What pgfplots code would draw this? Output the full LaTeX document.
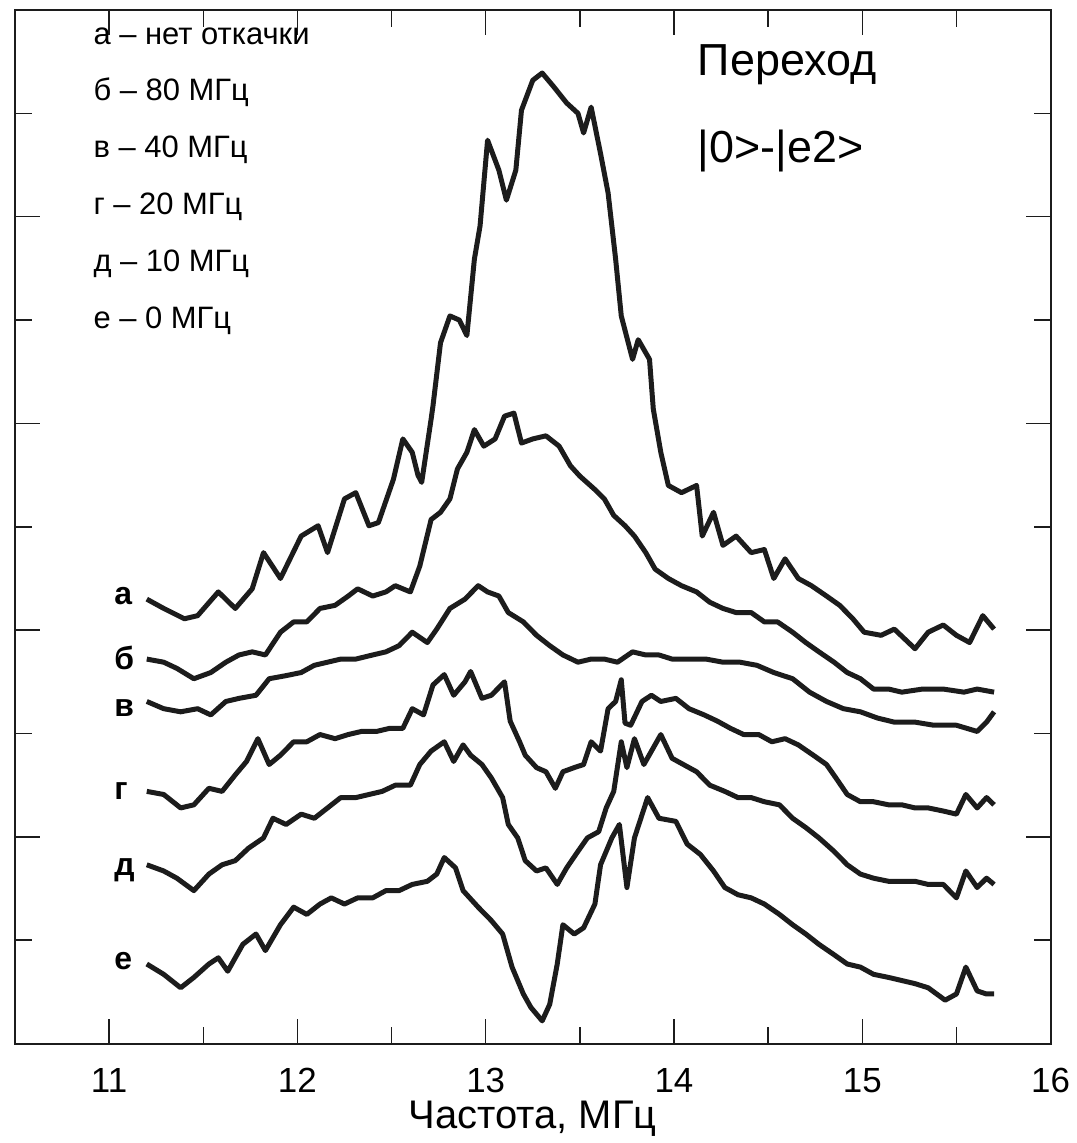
\documentclass[border=0pt]{standalone}
\usepackage{fontspec}
\setmainfont{Liberation Sans}
\usepackage{pgfplots}
\pgfplotsset{compat=1.18}
\definecolor{ink}{HTML}{1C1C1C}
\tikzset{trace/.style={ink, line width=2.5pt, line join=round, mark=none}}

\begin{document}
\begin{tikzpicture}
\begin{axis}[
  scale only axis, width=519pt, height=518pt,
  xmin=10.5, xmax=16, ymin=0, ymax=10,
  xtick={11,12,13,14,15,16},
  minor xtick={11.5,12.5,13.5,14.5,15.5},
  ytick={2,4,6,8}, minor ytick={1,3,5,7,9},
  yticklabels={},
  tick align=inside,
  major tick length=12.5pt, minor tick length=8.5pt,
  every tick/.style={ink, line width=0.75pt},
  axis line style={ink, line width=1pt},
  /pgf/number format/assume math mode=true,
  xticklabel style={font=\fontsize{17.5}{20}\selectfont, anchor=base, yshift=-24.5pt},
  xlabel={Частота, МГц},
  xlabel style={font=\fontsize{20}{22}\selectfont, at={(axis description cs:0.5,0)}, anchor=base, yshift=-42.5pt},
]
\coordinate (tl) at (rel axis cs:0,1);

% а
\addplot[trace] coordinates {
(11.20,4.30)(11.29,4.21)(11.40,4.11)(11.47,4.14)(11.58,4.37)(11.67,4.21)(11.76,4.40)(11.82,4.75)(11.91,4.50)(12.02,4.91)(12.11,5.01)(12.16,4.75)(12.25,5.27)(12.31,5.33)(12.38,5.01)(12.43,5.04)(12.51,5.46)(12.56,5.85)(12.61,5.72)(12.64,5.50)(12.66,5.43)(12.71,6.04)(12.72,6.17)(12.76,6.78)(12.81,7.04)(12.86,7.00)(12.90,6.85)(12.94,7.59)(12.97,7.91)(13.01,8.74)(13.07,8.45)(13.11,8.16)(13.16,8.45)(13.19,9.03)(13.25,9.32)(13.30,9.39)(13.36,9.26)(13.43,9.10)(13.49,9.00)(13.52,8.81)(13.56,9.06)(13.61,8.61)(13.65,8.23)(13.69,7.59)(13.72,7.04)(13.78,6.62)(13.81,6.81)(13.87,6.62)(13.89,6.14)(13.93,5.72)(13.97,5.40)(14.04,5.33)(14.12,5.40)(14.15,4.91)(14.21,5.14)(14.26,4.82)(14.33,4.91)(14.41,4.75)(14.48,4.78)(14.53,4.50)(14.59,4.69)(14.66,4.50)(14.73,4.43)(14.81,4.33)(14.88,4.24)(14.95,4.11)(15.01,3.98)(15.10,3.95)(15.17,4.01)(15.28,3.82)(15.35,3.98)(15.43,4.05)(15.50,3.95)(15.57,3.88)(15.64,4.14)(15.70,4.01)
};
% б
\addplot[trace] coordinates {
(11.20,3.72)(11.29,3.69)(11.36,3.63)(11.45,3.53)(11.54,3.59)(11.62,3.69)(11.69,3.76)(11.76,3.79)(11.83,3.76)(11.91,3.98)(11.98,4.08)(12.05,4.08)(12.12,4.21)(12.20,4.24)(12.27,4.33)(12.32,4.40)(12.40,4.33)(12.47,4.37)(12.52,4.43)(12.60,4.37)(12.65,4.62)(12.71,5.07)(12.76,5.14)(12.81,5.27)(12.85,5.56)(12.90,5.72)(12.94,5.94)(12.99,5.78)(13.05,5.85)(13.10,6.07)(13.15,6.10)(13.19,5.81)(13.25,5.85)(13.32,5.88)(13.39,5.78)(13.45,5.59)(13.50,5.49)(13.58,5.36)(13.63,5.27)(13.68,5.11)(13.74,5.01)(13.79,4.91)(13.85,4.75)(13.90,4.59)(13.97,4.50)(14.04,4.43)(14.12,4.37)(14.19,4.27)(14.26,4.21)(14.33,4.17)(14.41,4.17)(14.48,4.08)(14.55,4.08)(14.63,3.98)(14.70,3.88)(14.77,3.79)(14.85,3.69)(14.92,3.59)(14.99,3.53)(15.06,3.43)(15.14,3.43)(15.21,3.40)(15.32,3.43)(15.43,3.43)(15.54,3.40)(15.61,3.43)(15.70,3.40)
};
% в
\addplot[trace] coordinates {
(11.20,3.31)(11.29,3.24)(11.38,3.21)(11.47,3.24)(11.54,3.18)(11.62,3.31)(11.69,3.34)(11.78,3.37)(11.85,3.53)(11.94,3.56)(12.02,3.59)(12.09,3.66)(12.16,3.69)(12.23,3.72)(12.31,3.72)(12.40,3.76)(12.47,3.79)(12.54,3.85)(12.61,3.98)(12.69,3.88)(12.74,4.01)(12.81,4.21)(12.89,4.30)(12.96,4.43)(13.01,4.37)(13.07,4.33)(13.12,4.17)(13.20,4.08)(13.27,3.95)(13.34,3.85)(13.41,3.76)(13.49,3.69)(13.56,3.72)(13.63,3.72)(13.70,3.69)(13.78,3.79)(13.85,3.76)(13.92,3.76)(13.99,3.72)(14.08,3.72)(14.17,3.72)(14.26,3.69)(14.35,3.69)(14.44,3.66)(14.53,3.59)(14.63,3.53)(14.72,3.40)(14.81,3.31)(14.90,3.24)(14.99,3.21)(15.08,3.15)(15.17,3.11)(15.28,3.11)(15.38,3.08)(15.50,3.08)(15.61,3.02)(15.66,3.11)(15.70,3.21)
};
% г
\addplot[trace] coordinates {
(11.20,2.44)(11.29,2.41)(11.38,2.28)(11.45,2.31)(11.53,2.47)(11.60,2.44)(11.67,2.60)(11.73,2.73)(11.79,2.95)(11.85,2.70)(11.91,2.79)(11.98,2.92)(12.05,2.92)(12.12,2.99)(12.20,2.95)(12.27,2.99)(12.34,3.02)(12.42,3.02)(12.49,3.05)(12.56,3.05)(12.61,3.24)(12.67,3.18)(12.72,3.47)(12.78,3.57)(12.83,3.37)(12.89,3.50)(12.92,3.60)(12.98,3.34)(13.03,3.37)(13.10,3.50)(13.13,3.12)(13.18,2.92)(13.21,2.79)(13.27,2.67)(13.32,2.63)(13.37,2.47)(13.41,2.63)(13.47,2.67)(13.52,2.70)(13.56,2.92)(13.61,2.83)(13.65,3.24)(13.69,3.31)(13.72,3.52)(13.74,3.10)(13.77,3.08)(13.83,3.31)(13.88,3.37)(13.93,3.31)(14.01,3.34)(14.08,3.24)(14.16,3.18)(14.23,3.12)(14.30,3.05)(14.37,2.99)(14.45,2.99)(14.52,2.92)(14.59,2.95)(14.66,2.89)(14.74,2.79)(14.81,2.70)(14.86,2.57)(14.92,2.41)(14.99,2.34)(15.06,2.34)(15.14,2.31)(15.21,2.31)(15.28,2.28)(15.35,2.28)(15.43,2.25)(15.50,2.22)(15.55,2.41)(15.61,2.28)(15.66,2.38)(15.70,2.31)
};
% д
\addplot[trace] coordinates {
(11.20,1.73)(11.29,1.67)(11.36,1.60)(11.45,1.48)(11.53,1.64)(11.60,1.73)(11.67,1.77)(11.74,1.89)(11.82,1.99)(11.87,2.18)(11.94,2.12)(12.02,2.22)(12.09,2.18)(12.16,2.28)(12.23,2.38)(12.31,2.38)(12.38,2.41)(12.45,2.44)(12.52,2.50)(12.60,2.50)(12.65,2.70)(12.71,2.83)(12.78,2.92)(12.83,2.73)(12.88,2.89)(12.92,2.79)(12.98,2.70)(13.03,2.57)(13.09,2.38)(13.12,2.12)(13.17,1.99)(13.21,1.77)(13.27,1.67)(13.32,1.70)(13.38,1.54)(13.43,1.70)(13.49,1.86)(13.54,1.99)(13.60,2.05)(13.64,2.28)(13.68,2.44)(13.72,2.92)(13.75,2.67)(13.79,2.95)(13.84,2.70)(13.93,2.99)(13.99,2.76)(14.05,2.70)(14.12,2.63)(14.19,2.50)(14.27,2.44)(14.34,2.38)(14.41,2.38)(14.48,2.34)(14.56,2.31)(14.63,2.18)(14.70,2.09)(14.77,1.99)(14.85,1.86)(14.92,1.73)(14.99,1.64)(15.06,1.60)(15.14,1.57)(15.21,1.57)(15.28,1.57)(15.35,1.54)(15.43,1.54)(15.50,1.41)(15.55,1.67)(15.61,1.51)(15.66,1.60)(15.70,1.54)
};
% е
\addplot[trace] coordinates {
(11.20,0.77)(11.29,0.67)(11.38,0.54)(11.45,0.64)(11.53,0.77)(11.58,0.83)(11.63,0.70)(11.71,0.96)(11.78,1.06)(11.83,0.90)(11.91,1.15)(11.98,1.32)(12.05,1.25)(12.12,1.35)(12.18,1.41)(12.25,1.35)(12.32,1.41)(12.40,1.41)(12.47,1.48)(12.54,1.48)(12.61,1.54)(12.69,1.57)(12.74,1.64)(12.78,1.80)(12.84,1.70)(12.88,1.48)(12.96,1.32)(13.03,1.19)(13.09,1.06)(13.14,0.74)(13.20,0.48)(13.24,0.35)(13.30,0.22)(13.34,0.38)(13.38,0.77)(13.41,1.15)(13.47,1.06)(13.52,1.12)(13.58,1.35)(13.61,1.73)(13.67,1.99)(13.71,2.12)(13.75,1.51)(13.79,1.99)(13.86,2.38)(13.92,2.18)(14.01,2.15)(14.07,1.93)(14.14,1.83)(14.21,1.67)(14.27,1.51)(14.34,1.44)(14.41,1.41)(14.48,1.35)(14.56,1.25)(14.63,1.15)(14.70,1.06)(14.77,0.96)(14.85,0.86)(14.92,0.77)(14.99,0.74)(15.06,0.67)(15.14,0.64)(15.21,0.61)(15.28,0.58)(15.35,0.54)(15.44,0.42)(15.50,0.48)(15.55,0.74)(15.61,0.51)(15.66,0.48)(15.70,0.48)
};

\begin{scope}[font=\fontsize{15.5}{19}\selectfont]
\node[anchor=base west] at (axis cs:10.88,9.67) {а – нет откачки};
\node[anchor=base west] at (axis cs:10.88,9.12) {б – 80 МГц};
\node[anchor=base west] at (axis cs:10.88,8.57) {в – 40 МГц};
\node[anchor=base west] at (axis cs:10.88,8.02) {г – 20 МГц};
\node[anchor=base west] at (axis cs:10.88,7.47) {д – 10 МГц};
\node[anchor=base west] at (axis cs:10.88,6.92) {е – 0 МГц};
\end{scope}

\begin{scope}[font=\fontsize{22.5}{26}\selectfont]
\node[anchor=base west] at (axis cs:14.09,9.37) {Переход};
\node[anchor=base west] at (axis cs:14.09,8.52) {|0>-|e2>};
\end{scope}

\begin{scope}[font=\bfseries\fontsize{16}{19}\selectfont]
\node[anchor=base west] at (axis cs:10.99,4.25) {а};
\node[anchor=base west] at (axis cs:10.99,3.62) {б};
\node[anchor=base west] at (axis cs:10.99,3.16) {в};
\node[anchor=base west] at (axis cs:10.99,2.36) {г};
\node[anchor=base west] at (axis cs:10.99,1.63) {д};
\node[anchor=base west] at (axis cs:10.99,0.72) {е};
\end{scope}
\end{axis}
\path ([shift={(-7.5pt,5pt)}]tl) rectangle +(0.1pt,-0.1pt);
\end{tikzpicture}
\end{document}
